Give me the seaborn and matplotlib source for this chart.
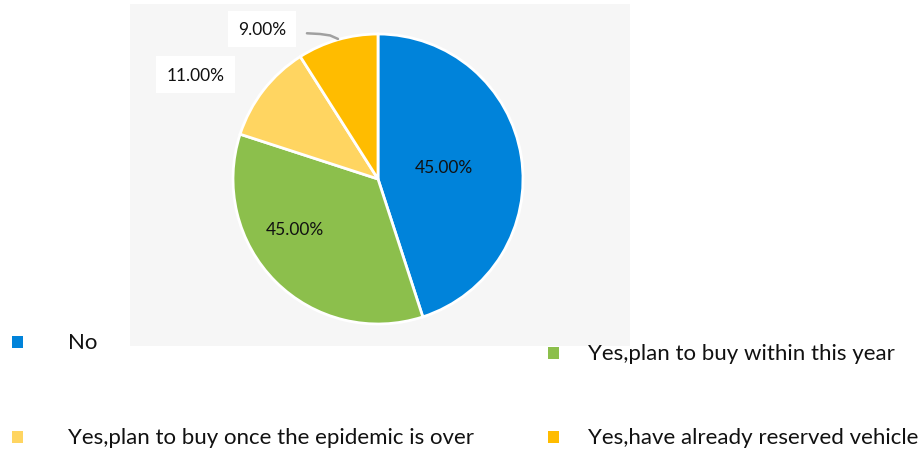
import matplotlib
matplotlib.use("Agg")
import matplotlib.pyplot as plt
from matplotlib.patches import Rectangle
import seaborn as sns

categories = ["No", "Yes,plan to buy within this year",
              "Yes,plan to buy once the epidemic is over",
              "Yes,have already reserved vehicle"]
values = [45, 35, 11, 9]
label_texts = ["45.00%", "45.00%", "11.00%", "9.00%"]
colors = sns.color_palette(["#0083DA", "#8CBF4C", "#FFD561", "#FFBC00"])

sns.set_theme(style="white")
plt.rcParams["font.family"] = ["Lato", "DejaVu Sans"]

W, H = 920, 456
fig = plt.figure(figsize=(W / 100, H / 100), dpi=100)

def fx(px):
    return px / W

def fy(py):
    return 1 - py / H

# light gray plot area background (separate axes behind the pie)
bg = fig.add_axes([fx(130), fy(347), fx(630) - fx(130), fy(5) - fy(347)], zorder=-5)
bg.set_facecolor("#F6F6F6")
bg.set_xticks([])
bg.set_yticks([])
for s in bg.spines.values():
    s.set_visible(False)

cx, cy, r = 378, 180, 145
ax = fig.add_axes([fx(cx - r), fy(cy + r), 2 * r / W, 2 * r / H], zorder=1)
ax.axis("off")
ax.patch.set_alpha(0)

wedges, _ = ax.pie(values, colors=colors, startangle=90, counterclock=False,
                   radius=1, wedgeprops=dict(edgecolor="white", linewidth=2))
ax.set_xlim(-1, 1)
ax.set_ylim(-1, 1)

tc = "#111111"
fs = 12.5
# inside labels
ax.text(0.455, 0.083, label_texts[0], ha="center", va="center", fontsize=fs, color=tc)
ax.text(-0.57, -0.345, label_texts[1], ha="center", va="center", fontsize=fs, color=tc)
# outside labels with white boxes
ax.text(-1.26, 0.72, label_texts[2], ha="center", va="center", fontsize=fs, color=tc,
        bbox=dict(boxstyle="square,pad=0.6", facecolor="white", edgecolor="none"))
ax.text(-0.80, 1.035, label_texts[3], ha="center", va="center", fontsize=fs, color=tc,
        bbox=dict(boxstyle="square,pad=0.6", facecolor="white", edgecolor="none"))
ax.plot([-0.49, -0.40, -0.33, -0.276], [1.005, 1.0, 0.99, 0.966], color="#A0A0A0", lw=1.8,
        clip_on=False, solid_capstyle="round")

# legend
legend_pos = [(12, 343, 68), (548, 354, 588), (12, 438, 68), (548, 438, 588)]
for (mx, my, tx), c, name in zip(legend_pos, colors, categories):
    fig.patches.append(Rectangle((fx(mx), fy(my + 6)), 11 / W, 12 / H,
                                 transform=fig.transFigure, facecolor=c,
                                 edgecolor="none", zorder=3))
    fig.text(fx(tx), fy(my), name, ha="left", va="center", fontsize=16, color="#111111",
             zorder=3)

fig.savefig("out.png", dpi=100)
